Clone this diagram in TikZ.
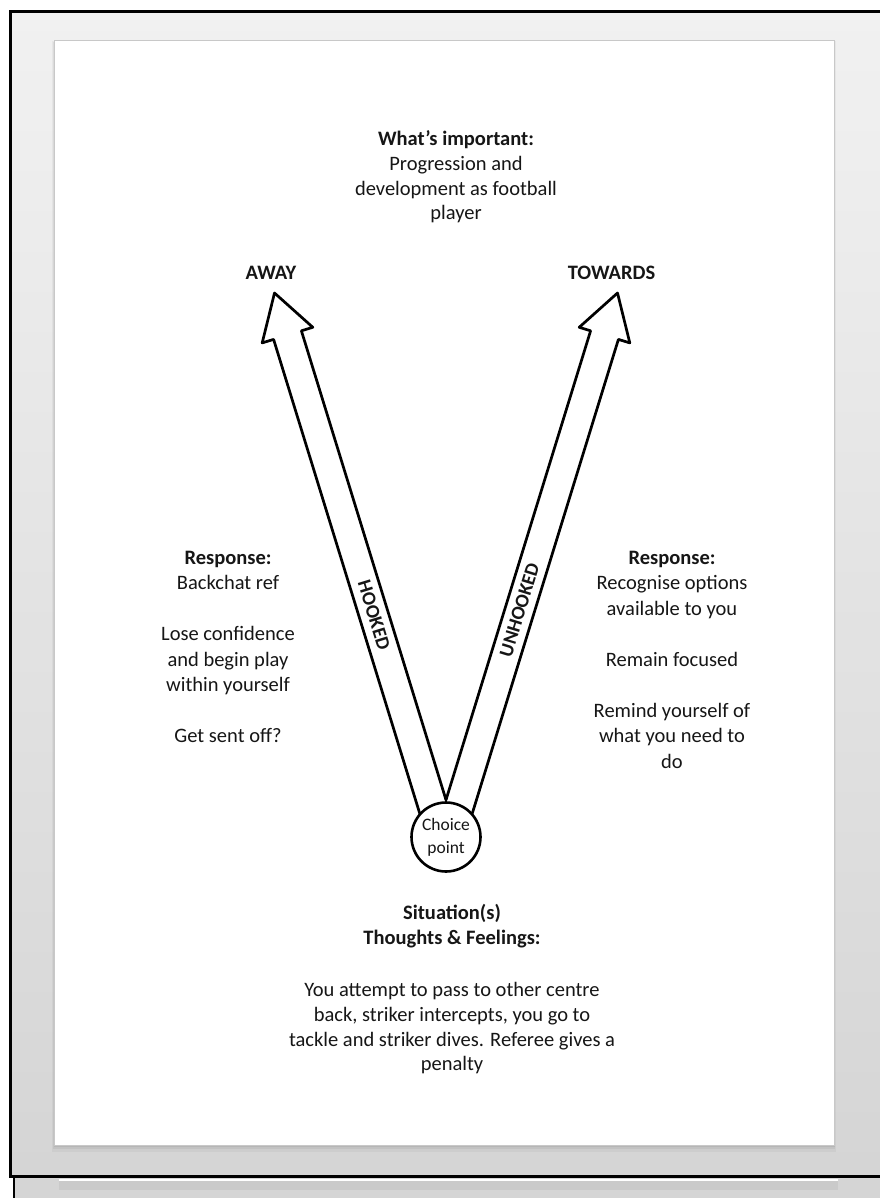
\documentclass[tikz,border=0pt]{standalone}
\usepackage{fontspec}
\setmainfont{Carlito}
\definecolor{bgtop}{RGB}{241,241,241}
\definecolor{bgbot}{RGB}{213,213,213}
\definecolor{pageedge}{RGB}{200,200,200}
\definecolor{ink}{RGB}{22,22,22}
\begin{document}
\begin{tikzpicture}[x=1pt,y=-1pt,
  body/.style={anchor=base, inner sep=0pt, text=ink, font=\fontsize{20.5}{25}\selectfont},
  head/.style={anchor=base, inner sep=0pt, text=ink, font=\fontsize{20.5}{25}\selectfont\bfseries},
  dirlabel/.style={inner sep=0pt, text=ink, font=\fontsize{20.5}{25}\selectfont\bfseries},
  shaftlabel/.style={inner sep=0pt, text=ink, font=\fontsize{19.5}{24}\selectfont\bfseries},
  outline/.style={line width=2.7pt, line join=round, line cap=round, draw=black},
  frameline/.style={line width=3pt, draw=black},
]
\useasboundingbox (0,0) rectangle (880,1198);

% viewer background: white margin, then a vertical grey gradient built from bands
\fill[white] (0,0) rectangle (880,1198);
\foreach \i in {0,...,58} {
  \pgfmathsetmacro{\p}{100-\i*100/58}
  \pgfmathsetmacro{\ya}{11.5+\i*20}
  \pgfmathsetmacro{\yb}{min(11.5+(\i+1)*20+0.6,1176.7)}
  \fill[bgtop!\p!bgbot] (10.5,\ya) rectangle (880,\yb);
}
\fill[bgbot] (14,1178) rectangle (880,1198);
\fill[black, opacity=0.05] (59,1181) rectangle (838,1190);
\draw[white, line width=1.2pt] (59,1180) -- (838,1180);
\draw[frameline] (10.5,1176.7) -- (10.5,11.5) -- (880,11.5);
\draw[frameline] (9,1176.7) -- (880,1176.7);
\draw[line width=2.5pt] (14,1178.2) -- (14,1198);

% page with soft shadow
\fill[black, opacity=0.04] (52,41) rectangle (836,1152);
\fill[black, opacity=0.05] (53,42) rectangle (835,1149);
\fill[black, opacity=0.06] (54,43) rectangle (834.5,1147);
\draw[draw=pageedge, fill=white, line width=1pt] (54,41) rectangle (834,1145);

% left arrow (HOOKED)
\coordinate (Lfoot) at (424.1,827.6);
\coordinate (Lnotch1) at (273.6,339.4);
\coordinate (Lbarb1) at (262.2,342.9);
\coordinate (Ltip) at (274.5,293);
\coordinate (Lbarb2) at (312.8,327.3);
\coordinate (Lnotch2) at (301.4,330.8);
\coordinate (apex) at (446,799.9);
\draw[outline] (Lfoot) -- (Lnotch1) -- (Lbarb1) -- (Ltip) -- (Lbarb2) -- (Lnotch2) -- (apex);

% right arrow (UNHOOKED)
\coordinate (Rfoot) at (467.9,827.6);
\coordinate (Rnotch1) at (618.4,339.4);
\coordinate (Rbarb1) at (629.8,342.9);
\coordinate (Rtip) at (617.5,293);
\coordinate (Rbarb2) at (579.2,327.3);
\coordinate (Rnotch2) at (590.6,330.8);
\draw[outline] (Rfoot) -- (Rnotch1) -- (Rbarb1) -- (Rtip) -- (Rbarb2) -- (Rnotch2) -- (apex);

% choice point
\node[circle, draw=black, line width=2.6pt, fill=white, minimum size=69pt, inner sep=0pt,
      align=center, text=ink, font=\fontsize{17.5}{23}\selectfont] (cp) at (446,837) {Choice\\point};

% direction labels
\node[dirlabel] (away) at (271,273) {AWAY};
\node[dirlabel] (towards) at (611.5,273) {TOWARDS};
\node[shaftlabel, rotate=-72.9] (hooked) at (374,615) {HOOKED};
\node[shaftlabel, rotate=72.9] (unhooked) at (519.5,610) {UNHOOKED};

% what's important
\node[head] (imp1) at (456,146) {What’s important:};
\node[body] (imp2) at (456,171) {Progression and};
\node[body] (imp3) at (456,196) {development as football};
\node[body] (imp4) at (456,220) {player};

% hooked response
\node[head] (lr0) at (228,564) {Response:};
\node[body] (lr1) at (228,589.5) {Backchat ref};
\node[body] (lr3) at (228,640.5) {Lose confidence};
\node[body] (lr4) at (228,666) {and begin play};
\node[body] (lr5) at (228,691.5) {within yourself};
\node[body] (lr7) at (228,742.5) {Get sent off?};

% unhooked response
\node[head] (rr0) at (672,564) {Response:};
\node[body] (rr1) at (672,589.5) {Recognise options};
\node[body] (rr2) at (672,615) {available to you};
\node[body] (rr4) at (672,666) {Remain focused};
\node[body] (rr6) at (672,717) {Remind yourself of};
\node[body] (rr7) at (672,742.5) {what you need to};
\node[body] (rr8) at (672,768) {do};

% situation
\node[head] (s0) at (452,919) {Situation(s)};
\node[head] (s1) at (452,944) {Thoughts \& Feelings:};
\node[body] (s3) at (452,996) {You attempt to pass to other centre};
\node[body] (s4) at (452,1021) {back, striker intercepts, you go to};
\node[body] (s5) at (452,1046) {tackle and striker dives. Referee gives a};
\node[body] (s6) at (452,1070) {penalty};
\end{tikzpicture}
\end{document}
